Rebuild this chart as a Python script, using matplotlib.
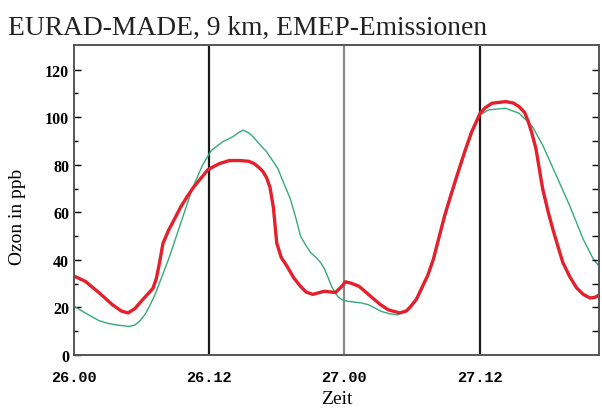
import matplotlib
matplotlib.use('Agg')
import matplotlib.pyplot as plt
import numpy as np

# time in hours since 26.00
zeit_rot = [0, 1.0, 2.2, 3.4, 4.2, 4.8, 5.4, 6.1, 7.0, 7.3,
            7.6, 7.9, 8.4, 8.9, 9.5, 10.1, 10.6, 11.1, 11.9, 12.9,
            13.8, 14.7, 15.5, 16.0, 16.5, 16.8, 17.1, 17.4, 17.7, 18.0,
            18.4, 18.9, 19.5, 20.1, 20.6, 21.2, 22.2, 23.2, 23.7, 24.1,
            24.6, 25.3, 26.5, 27.2, 27.9, 28.9, 29.5, 29.9, 30.4, 30.8,
            31.4, 31.9, 32.4, 32.9, 33.5, 34.1, 34.7, 35.3, 36.05, 36.5,
            37.1, 38.3, 39.0, 39.5, 40.0, 40.3, 40.6, 41.0, 41.6, 42.1,
            42.5, 43.0, 43.4, 44.0, 44.6, 45.2, 45.8, 46.2, 46.7, 47.1]
ozon_rot = [33.2, 31, 26.3, 21.2, 18.5, 17.7, 19.5, 23.3, 28, 32,
            39, 47, 52.5, 57, 62.5, 67, 70.5, 73.4, 78, 80.5,
            81.8, 81.8, 81.5, 80.5, 78.5, 77, 74.5, 70.5, 62, 47,
            41, 37.4, 32.5, 28.9, 26.5, 25.5, 26.8, 26.3, 28.5, 30.8,
            30.2, 28.9, 24, 21.2, 19, 17.7, 18.5, 20.5, 23.5, 27.5,
            33.5, 40.3, 49.5, 58.6, 68, 77, 85.8, 93.9, 101.7, 104,
            105.9, 106.6, 106, 104.5, 102, 98.5, 94, 86.9, 69.9, 60,
            53, 45, 38.8, 33, 28.3, 25.5, 24, 24.2, 25.4, 26]

zeit_gruen = [0, 1.0, 2.2, 3.0, 3.7, 4.9, 5.4, 5.8, 6.3, 6.7,
              7.2, 7.6, 8.5, 9.5, 10.5, 11.4, 12.2, 13.2, 14.1, 14.6,
              15.0, 15.5, 15.9, 16.5, 17.1, 18.1, 18.6, 19.2, 19.7, 20.1,
              20.6, 21.0, 21.5, 21.9, 22.2, 22.5, 22.9, 23.4, 23.8, 24.3,
              25.5, 26.1, 26.7, 27.3, 28.0, 28.7, 29.3, 29.9, 30.4, 30.8,
              31.4, 31.9, 32.4, 32.9, 33.5, 34.1, 34.7, 35.3, 36.05, 36.8,
              38.3, 39.5, 40.1, 40.7, 41.6, 42.8, 44.0, 45.2, 46.1, 47.1]
ozon_gruen = [20.5, 17.7, 14.5, 13.3, 12.7, 12, 12.6, 14.1, 17, 20.5,
              25.5, 30.4, 41.7, 55.8, 69.9, 79.8, 86.1, 89.7, 91.8, 93.5,
              94.6, 93.5, 91.8, 88.5, 85.5, 78.4, 72.5, 65.7, 57.5, 50.1,
              46, 43.1, 41, 38.8, 36.5, 33.2, 28.5, 24.7, 23.2, 22.6,
              21.9, 21.2, 19.8, 18.3, 17.4, 16.9, 18, 20.5, 23, 26.8,
              33, 39.5, 48.5, 57.5, 67, 76, 85, 93, 101, 103.1,
              103.8, 101.7, 99, 96, 88.3, 75.6, 62.8, 48.7, 40.3, 34.6]

xticks = [0, 12, 24, 36]
xlabels = ['26.00', '26.12', '27.00', '27.12']

plt.rcParams['font.family'] = ['Liberation Serif', 'DejaVu Serif']

fig = plt.figure(figsize=(6.02, 4.10), dpi=100)
ax = fig.add_axes([0.1229, 0.1317, 0.8721, 0.7561])

ax.axvline(12, color='#1a1a1a', lw=1.6, zorder=1)
ax.axvline(24, color='#8a8a8a', lw=1.6, zorder=1)
ax.axvline(36, color='#1a1a1a', lw=1.6, zorder=1)

ax.plot(zeit_gruen, ozon_gruen, color='#35aa78', lw=1.0, zorder=2)
ax.plot(zeit_rot, ozon_rot, color='#e3202c', lw=2.4, zorder=3,
        solid_joinstyle='round')

ax.set_xlim(0, 46.6)
ax.set_ylim(0, 130.4)

ax.set_xticks(xticks)
ax.set_xticklabels(xlabels, fontsize=11, fontweight='bold',
                   family=['Liberation Mono', 'DejaVu Sans Mono'])
ax.tick_params(axis='x', length=0, pad=11)

ax.set_yticks([0, 20, 40, 60, 80, 100, 120])
ax.set_yticks(np.arange(10, 130, 20), minor=True)
ax.tick_params(axis='y', which='major', direction='in', length=5, width=1,
               labelsize=11.5, left=True, right=False)
ax.tick_params(axis='y', which='minor', direction='in', length=3, width=1,
               left=True, right=False)
for lab in ax.get_yticklabels():
    lab.set_fontweight('bold')

# ticks on the right side
ax2 = ax.twinx()
ax2.set_ylim(0, 130.4)
ax2.set_yticks(np.arange(10, 130, 10))
ax2.tick_params(axis='y', direction='in', length=5, width=1, labelright=False)

for a in (ax, ax2):
    for s in a.spines.values():
        s.set_color('#555555')
        s.set_linewidth(1.2)

ax.set_xlabel('Zeit', fontsize=14, labelpad=4)
ax.set_ylabel('Ozon in ppb', fontsize=14)
ax.yaxis.set_label_coords(-0.091, 0.45)

fig.text(0.013, 0.915, 'EURAD-MADE, 9 km, EMEP-Emissionen', fontsize=19.8,
         ha='left', va='baseline', color='#222222')

fig.savefig('out.png', dpi=100)
